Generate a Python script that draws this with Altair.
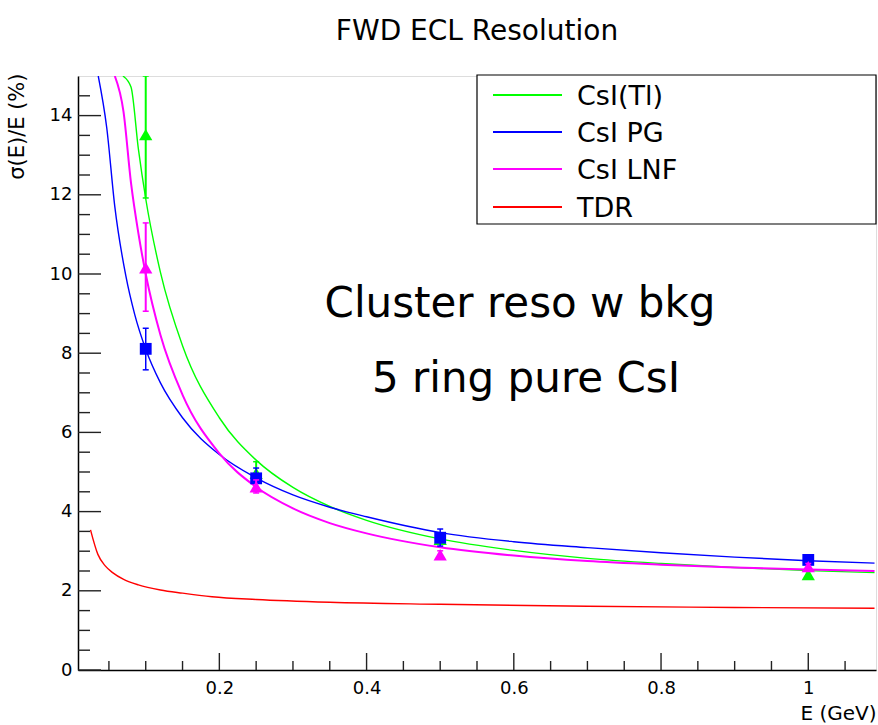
import altair as alt
import pandas as pd

# ---------------- data ----------------
SERIES = ["CsI(Tl)", "CsI PG", "CsI LNF", "TDR"]
COLORS = ["#00ff00", "#0000ff", "#ff00ff", "#ff0000"]

# measured points (E in GeV, resolution in %)
E_POINTS = [0.1, 0.25, 0.5, 1.0]
TL_VAL = [13.52, 4.97, 3.30, 2.41]
TL_LO = [11.92, 4.72, 3.18, 2.33]
TL_HI = [15.0, 5.26, 3.42, 2.49]
PG_VAL = [8.11, 4.84, 3.34, 2.78]
PG_LO = [7.58, 4.60, 3.13, 2.68]
PG_HI = [8.63, 5.10, 3.56, 2.88]
LNF_VAL = [10.16, 4.63, 2.91, 2.61]
LNF_LO = [9.06, 4.47, 2.81, 2.53]
LNF_HI = [11.29, 4.80, 3.01, 2.69]

# fitted curves
TL_CURVE_E = [0.069, 0.080, 0.090, 0.100, 0.120, 0.150, 0.200, 0.250, 0.300, 0.350,
              0.400, 0.500, 0.600, 0.700, 0.800, 0.900, 1.000, 1.090]
TL_CURVE_V = [15.0, 14.72, 13.16, 11.9, 10.04, 8.19, 6.37, 5.30, 4.61, 4.13,
              3.78, 3.31, 3.02, 2.82, 2.69, 2.59, 2.51, 2.46]

PG_CURVE_E = [0.0355, 0.047, 0.058, 0.073, 0.085, 0.100, 0.120, 0.150, 0.200, 0.250,
              0.300, 0.350, 0.400, 0.500, 0.600, 0.700, 0.800, 0.900, 1.000, 1.090]
PG_CURVE_V = [15.0, 13.7, 11.7, 9.95, 8.98, 8.10, 7.25, 6.37, 5.44, 4.85,
              4.42, 4.11, 3.87, 3.47, 3.24, 3.09, 2.96, 2.85, 2.76, 2.70]

LNF_CURVE_E = [0.058, 0.0698, 0.080, 0.090, 0.100, 0.120, 0.150, 0.200, 0.250, 0.300,
               0.350, 0.400, 0.500, 0.600, 0.700, 0.800, 0.900, 1.000, 1.090]
LNF_CURVE_V = [15.0, 14.1, 12.3, 11.03, 10.0, 8.46, 6.95, 5.47, 4.62, 4.08,
               3.71, 3.45, 3.10, 2.89, 2.75, 2.66, 2.59, 2.54, 2.50]

TDR_CURVE_E = [0.025, 0.035, 0.045, 0.055, 0.070, 0.090, 0.120, 0.150, 0.190, 0.250,
               0.350, 0.500, 0.700, 0.900, 1.090]
TDR_CURVE_V = [3.54, 2.92, 2.63, 2.46, 2.29, 2.15, 2.02, 1.94, 1.85, 1.78,
               1.71, 1.66, 1.61, 1.58, 1.56]

Y_MAJOR = [0, 2, 4, 6, 8, 10, 12, 14]
Y_MINOR = [0.5, 1, 1.5, 2.5, 3, 3.5, 4.5, 5, 5.5, 6.5, 7, 7.5, 8.5, 9, 9.5,
           10.5, 11, 11.5, 12.5, 13, 13.5, 14.5]
X_MAJOR = [0.2, 0.4, 0.6, 0.8, 1.0]
X_MINOR = [0.05, 0.1, 0.15, 0.25, 0.3, 0.35, 0.45, 0.5, 0.55, 0.65, 0.7, 0.75,
           0.85, 0.9, 0.95, 1.05]

TITLE = "FWD ECL Resolution"
X_TITLE = "E (GeV)"
Y_TITLE = "σ(E)/E (%)"
NOTE_1 = "Cluster reso w bkg"
NOTE_2 = "5 ring pure CsI"

# ---------------- layout ----------------
W, H = 798, 594
FONT = "DejaVu Sans"

xs = alt.Scale(domain=[0.008, 1.092], nice=False, zero=False)
ys = alt.Scale(domain=[0, 15], nice=False, zero=True)

X = alt.X("E:Q", scale=xs, axis=alt.Axis(
    values=X_MAJOR, format="~g", title=X_TITLE, grid=False, ticks=False, tickSize=0,
    labelFont=FONT, labelFontSize=18, labelColor="black", labelPadding=9,
    titleFont=FONT, titleFontSize=20, titleFontWeight="normal", titleColor="black",
    titleAnchor="end", titlePadding=6,
    domainColor="black", domainWidth=1.5))
Y = alt.Y("v:Q", scale=ys, axis=alt.Axis(
    values=Y_MAJOR, format="d", title=Y_TITLE, grid=False, ticks=False, tickSize=0,
    labelFont=FONT, labelFontSize=18, labelColor="black", labelPadding=6,
    titleFont=FONT, titleFontSize=21, titleFontWeight="normal", titleColor="black",
    titleAngle=-90, titleAlign="right", titleBaseline="alphabetic",
    titleX=-55, titleY=-3,
    domainColor="black", domainWidth=1.5))

layers = []

# inward tick marks (ROOT style)
ym = pd.DataFrame({"v": Y_MAJOR})
yn = pd.DataFrame({"v": Y_MINOR})
xm = pd.DataFrame({"E": X_MAJOR})
xn = pd.DataFrame({"E": X_MINOR})
tick_style = dict(color="#222222", strokeWidth=1.4)
layers.append(alt.Chart(ym).mark_rule(**tick_style).encode(
    y=alt.Y("v:Q", scale=ys), x=alt.value(0), x2=alt.value(23)))
layers.append(alt.Chart(yn).mark_rule(**tick_style).encode(
    y=alt.Y("v:Q", scale=ys), x=alt.value(0), x2=alt.value(12)))
layers.append(alt.Chart(xm).mark_rule(**tick_style).encode(
    x=alt.X("E:Q", scale=xs), y=alt.value(H), y2=alt.value(H - 17)))
layers.append(alt.Chart(xn).mark_rule(**tick_style).encode(
    x=alt.X("E:Q", scale=xs), y=alt.value(H), y2=alt.value(H - 9)))

# curves
curves = [
    (TL_CURVE_E, TL_CURVE_V, COLORS[0], 1.4),
    (PG_CURVE_E, PG_CURVE_V, COLORS[1], 1.4),
    (LNF_CURVE_E, LNF_CURVE_V, COLORS[2], 2.0),
    (TDR_CURVE_E, TDR_CURVE_V, COLORS[3], 1.4),
]
first = True
for ce, cv, col, sw in curves:
    df = pd.DataFrame({"E": ce, "v": cv})
    layers.append(alt.Chart(df).mark_line(clip=True, strokeWidth=sw, interpolate="monotone").encode(
        x=X if first else alt.X("E:Q", scale=xs),
        y=Y if first else alt.Y("v:Q", scale=ys),
        color=alt.value(col)))
    first = False

# points with error bars
pts = [
    (TL_VAL, TL_LO, TL_HI, COLORS[0], "triangle-up", 175, 2.0),
    (PG_VAL, PG_LO, PG_HI, COLORS[1], "square", 140, 1.5),
    (LNF_VAL, LNF_LO, LNF_HI, COLORS[2], "triangle-up", 175, 2.0),
]
for val, lo, hi, col, shape, size, sw in pts:
    df = pd.DataFrame({"E": E_POINTS, "v": val, "lo": lo, "hi": hi})
    base = alt.Chart(df)
    layers.append(base.mark_rule(clip=True, strokeWidth=sw, color=col).encode(
        x=alt.X("E:Q", scale=xs), y=alt.Y("lo:Q", scale=ys), y2="hi:Q"))
    layers.append(base.mark_rule(clip=True, strokeWidth=1.5, color=col, xOffset=-3, x2Offset=3).encode(
        x=alt.X("E:Q", scale=xs), x2="E:Q", y=alt.Y("lo:Q", scale=ys)))
    layers.append(base.mark_rule(clip=True, strokeWidth=1.5, color=col, xOffset=-3, x2Offset=3).encode(
        x=alt.X("E:Q", scale=xs), x2="E:Q", y=alt.Y("hi:Q", scale=ys)))
    layers.append(base.mark_point(filled=True, opacity=1, shape=shape, size=size, color=col,
                                  clip=True).encode(
        x=alt.X("E:Q", scale=xs), y=alt.Y("v:Q", scale=ys)))

# legend box (ROOT TLegend)
one = pd.DataFrame({"k": [0]})
layers.append(alt.Chart(one).mark_rect(fill="white", stroke="black", strokeWidth=1.2).encode(
    x=alt.value(399), x2=alt.value(W), y=alt.value(-1), y2=alt.value(148)))
row_y = [19, 56, 93, 131]
for name, col, ry in zip(SERIES, COLORS, row_y):
    layers.append(alt.Chart(one).mark_rule(color=col, strokeWidth=2).encode(
        x=alt.value(415), x2=alt.value(484), y=alt.value(ry)))
    layers.append(alt.Chart(one).mark_text(text=name, font=FONT, fontSize=27, align="left",
                                           baseline="alphabetic", color="black").encode(
        x=alt.value(499), y=alt.value(ry + 10)))

# annotation text
layers.append(alt.Chart(one).mark_text(text=NOTE_1, font=FONT, fontSize=42, align="center",
                                       baseline="alphabetic", color="black").encode(
    x=alt.value(442), y=alt.value(241)))
layers.append(alt.Chart(one).mark_text(text=NOTE_2, font=FONT, fontSize=42, align="center",
                                       baseline="alphabetic", color="black").encode(
    x=alt.value(448), y=alt.value(316)))

chart = alt.layer(*layers).properties(
    width=W, height=H,
    title=alt.TitleParams(TITLE, font=FONT, fontSize=28, fontWeight="normal", color="black",
                          anchor="middle", frame="group", baseline="alphabetic", offset=5),
    autosize=alt.AutoSizeParams(type="none"),
    padding={"left": 78, "top": 76, "right": 2, "bottom": 55},
).configure_view(stroke="black", strokeWidth=1.5).configure(background="white")

chart.save("out.html", embed_options={"renderer": "svg", "actions": False})
